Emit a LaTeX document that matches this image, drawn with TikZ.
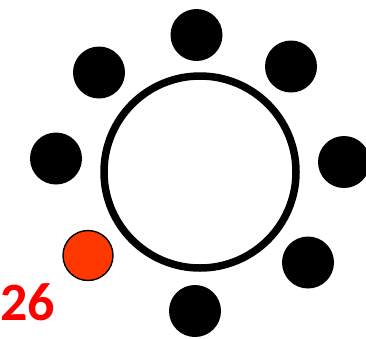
\documentclass[tikz,border=0pt]{standalone}
\usepackage{fontspec}
\newfontfamily\calib{Carlito}[UprightFont={* Bold},BoldFont={* Bold},ItalicFont={* Bold},BoldItalicFont={* Bold}]
\definecolor{dotred}{RGB}{255,55,0}
\definecolor{txtred}{RGB}{255,0,0}
\begin{document}
\begin{tikzpicture}[x=1pt,y=-1pt,
  dot/.style={circle,fill=black,minimum size=52pt,inner sep=0pt},
  reddot/.style={circle,fill=dotred,draw=black,line width=1.4pt,minimum size=50pt,inner sep=0pt}]
\useasboundingbox (0,0) rectangle (366,338);
\draw[line width=7.5pt] (200,172) circle (96);
\node[dot] (n1) at (196.5,35) {};
\node[dot] (n2) at (291,66.5) {};
\node[dot] (n3) at (344,162) {};
\node[dot] (n4) at (308,262.5) {};
\node[dot] (n5) at (195,311) {};
\node[reddot] (n6) at (88,255.5) {};
\node[dot] (n7) at (56,158.5) {};
\node[dot] (n8) at (99,72.5) {};
\node[anchor=base west,inner sep=0pt,text=txtred,font=\calib\fontsize{54}{54}\selectfont] (lbl) at (0,320) {26};
\end{tikzpicture}
\end{document}
